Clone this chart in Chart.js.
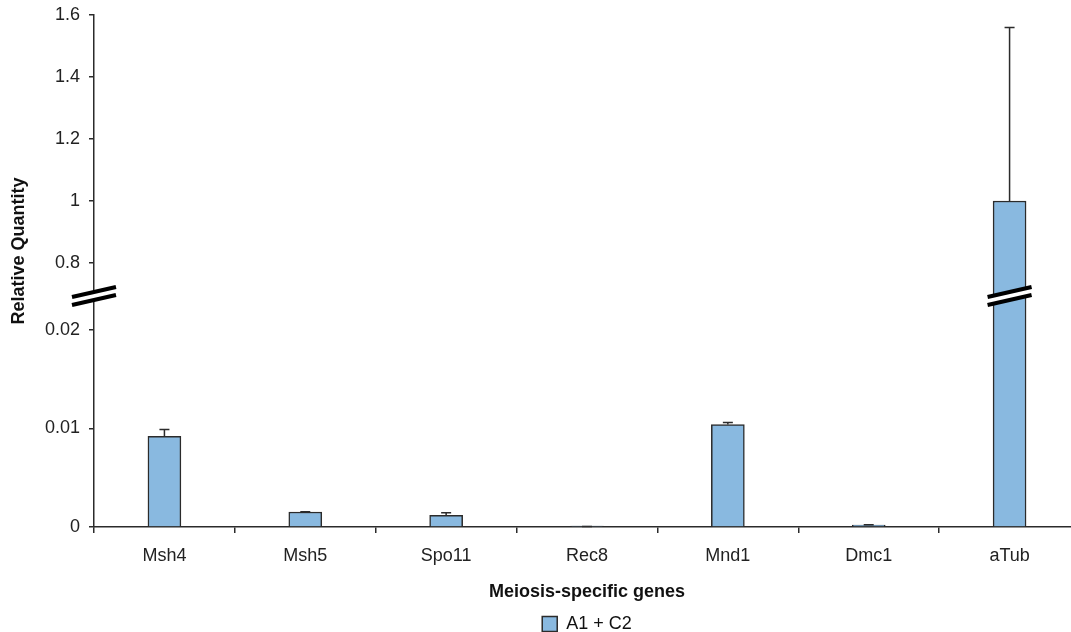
<!DOCTYPE html>
<html>
<head>
<meta charset="utf-8">
<script src="https://cdn.jsdelivr.net/npm/chart.js@4.4.1/dist/chart.umd.min.js"></script>
<style>
  html, body { margin: 0; padding: 0; background: #fff; overflow: hidden; }
  #wrap { position: relative; width: 1080px; height: 632px; }
</style>
</head>
<body>
<div id="wrap"><canvas id="chart"></canvas></div>
<script>
const genes = ['Msh4', 'Msh5', 'Spo11', 'Rec8', 'Mnd1', 'Dmc1', 'aTub'];
const quantity = [0.0092, 0.00152, 0.00118, 0.00005, 0.0104, 0.0002, 1.0];
const errors = [0.0007, 0.00002, 0.00026, 0.00001, 0.0002, 0.00003, 0.56];
const lowTicks = [0, 0.01, 0.02];
const highTicks = [0.8, 1, 1.2, 1.4, 1.6];
const seriesLabel = 'A1 + C2';

// broken y axis: 0..LOW_TOP sits under the break, HIGH_BOTTOM..HIGH_TOP above it
const LOW_TOP = 0.02345, HIGH_BOTTOM = 0.6935, HIGH_TOP = 1.6;
const LOW_SPAN = 231, HIGH_SPAN = 281;

function toAxis(v) {
  if (v <= LOW_TOP) return v / LOW_TOP * LOW_SPAN;
  if (v < HIGH_BOTTOM) return LOW_SPAN;
  return LOW_SPAN + (v - HIGH_BOTTOM) / (HIGH_TOP - HIGH_BOTTOM) * HIGH_SPAN;
}

const tickValues = lowTicks.concat(highTicks);
const ink = '#2b2b2b';
const FONT = "'Liberation Sans', Arial, Helvetica, sans-serif";

// error bars, upper half only (lower half hides behind the bar)
const errorBars = {
  id: 'errorBars',
  afterDatasetsDraw(chart) {
    const { ctx, scales: { y } } = chart;
    const meta = chart.getDatasetMeta(0);
    ctx.save();
    ctx.strokeStyle = ink;
    ctx.lineWidth = 1.5;
    meta.data.forEach((bar, i) => {
      if (!errors[i]) return;
      const top = y.getPixelForValue(toAxis(quantity[i] + errors[i]));
      ctx.beginPath();
      ctx.moveTo(bar.x, bar.y);
      ctx.lineTo(bar.x, top);
      ctx.moveTo(bar.x - 5, top);
      ctx.lineTo(bar.x + 5, top);
      ctx.stroke();
    });
    ctx.restore();
  }
};

// double slash marks where the axis and the aTub bar are broken
const breakMarks = {
  id: 'breakMarks',
  afterDraw(chart) {
    const { ctx, scales: { y } } = chart;
    const yb = y.getPixelForValue(LOW_SPAN);
    const meta = chart.getDatasetMeta(0);
    const spots = [chart.chartArea.left, meta.data[genes.length - 1].x];
    ctx.save();
    spots.forEach(cx => {
      const hw = 22, rise = 10, gap = 6;
      // white gap between the slashes
      ctx.fillStyle = '#fff';
      ctx.beginPath();
      ctx.moveTo(cx - hw, yb + rise / 2 - gap / 2);
      ctx.lineTo(cx + hw, yb - rise / 2 - gap / 2);
      ctx.lineTo(cx + hw, yb - rise / 2 + gap / 2);
      ctx.lineTo(cx - hw, yb + rise / 2 + gap / 2);
      ctx.closePath();
      ctx.fill();
      ctx.strokeStyle = '#000';
      ctx.lineWidth = 4;
      [-gap / 2 - 1, gap / 2 + 1].forEach(d => {
        ctx.beginPath();
        ctx.moveTo(cx - hw, yb + rise / 2 + d);
        ctx.lineTo(cx + hw, yb - rise / 2 + d);
        ctx.stroke();
      });
    });
    ctx.restore();
  }
};

// y title drawn by hand so it sits where the original has it
const yTitle = {
  id: 'yTitle',
  afterDraw(chart) {
    const { ctx } = chart;
    ctx.save();
    ctx.translate(19, 251);
    ctx.rotate(-Math.PI / 2);
    ctx.font = 'bold 18px ' + FONT;
    ctx.fillStyle = '#111';
    ctx.textAlign = 'center';
    ctx.textBaseline = 'middle';
    ctx.fillText('Relative Quantity', 0, 0);
    ctx.restore();
  }
};

new Chart(document.getElementById('chart'), {
  type: 'bar',
  data: {
    labels: genes,
    datasets: [{
      label: seriesLabel,
      data: quantity.map(toAxis),
      backgroundColor: '#89b9e0',
      borderColor: ink,
      borderWidth: 1.5,
      barThickness: 33,
      minBarLength: 1
    }]
  },
  options: {
    responsive: true,
    maintainAspectRatio: false,
    animation: false,
    layout: { padding: { top: 15, left: 0, right: 0, bottom: 0 } },
    plugins: {
      legend: {
        position: 'bottom',
        fullSize: false,
        maxHeight: 22,
        labels: {
          boxWidth: 15, boxHeight: 15, padding: 5,
          color: '#111',
          font: { family: FONT, size: 18 }
        }
      },
      tooltip: { enabled: false }
    },
    scales: {
      x: {
        grid: { drawOnChartArea: false, drawTicks: true, tickLength: 6, color: ink, lineWidth: 1.5 },
        border: { display: true, color: ink, width: 1.5 },
        ticks: { color: '#222', padding: 12, font: { family: FONT, size: 18 } },
        title: {
          display: true, text: 'Meiosis-specific genes', color: '#111',
          font: { family: FONT, size: 18, weight: 'bold' },
          padding: { top: 0, bottom: 7 }
        },
        afterFit: s => { s.height = 83; }
      },
      y: {
        min: 0,
        max: LOW_SPAN + HIGH_SPAN,
        afterBuildTicks: s => { s.ticks = tickValues.map(v => ({ value: toAxis(v) })); },
        grid: { drawOnChartArea: false, drawTicks: true, tickLength: 5, color: ink, lineWidth: 1.5 },
        border: { display: true, color: ink, width: 1.5 },
        ticks: {
          autoSkip: false, padding: 9, color: '#222',
          font: { family: FONT, size: 18 },
          callback: (val, i) => String(tickValues[i])
        },
        afterFit: s => { s.width = 94; s.paddingTop = 0; s.paddingBottom = 0; }
      }
    }
  },
  plugins: [errorBars, breakMarks, yTitle]
});
</script>
</body>
</html>
